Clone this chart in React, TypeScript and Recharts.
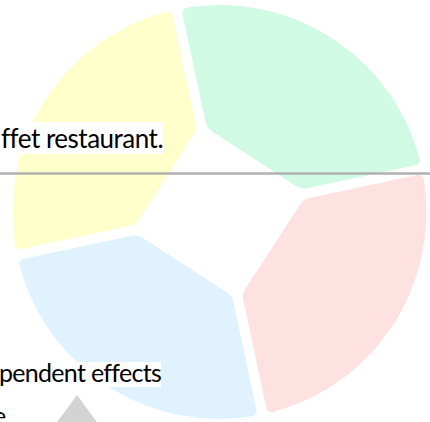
import React from 'react';
import { PieChart, Pie, Cell } from 'recharts';

// four equal quarters, drawn counter-clockwise from the start angle
const categories = ['North', 'West', 'South', 'East'];
const values = [25, 25, 25, 25];
const colors = ['#D1FAE5', '#FFFFCC', '#E0F2FE', '#FEE2E2'];

// annotation fragments that overlap the chart
const notes = ['ffet restaurant.', 'pendent effects', 'e'];

const data = categories.map((name, i) => ({ name, value: values[i] }));

const RAD = Math.PI / 180;
const GAP = 10;
const CORNER = 6;

type Pt = [number, number];

const polar = (cx: number, cy: number, r: number, deg: number): Pt => [
  cx + r * Math.cos(-deg * RAD),
  cy + r * Math.sin(-deg * RAD),
];

const toward = (a: Pt, b: Pt, d: number): Pt => {
  const dx = b[0] - a[0];
  const dy = b[1] - a[1];
  const len = Math.hypot(dx, dy) || 1;
  return [a[0] + (dx / len) * d, a[1] + (dy / len) * d];
};

const fmt = (p: Pt) => `${p[0].toFixed(2)},${p[1].toFixed(2)}`;

// sector with a flat inner edge, a constant-width gap and rounded corners
const PetalSector = (props: any) => {
  const { cx, cy, innerRadius, outerRadius, startAngle, endAngle, fill } = props;
  const sign = endAngle >= startAngle ? 1 : -1;
  const h = GAP / 2;
  const dO = (Math.asin(h / outerRadius) / RAD) * sign;
  const dI = (Math.asin(h / innerRadius) / RAD) * sign;
  const o1 = polar(cx, cy, outerRadius, startAngle + dO);
  const o2 = polar(cx, cy, outerRadius, endAngle - dO);
  const i1 = polar(cx, cy, innerRadius, startAngle + dI);
  const i2 = polar(cx, cy, innerRadius, endAngle - dI);
  const dArc = (CORNER / outerRadius / RAD) * sign;
  const a1 = polar(cx, cy, outerRadius, startAngle + dO + dArc);
  const a2 = polar(cx, cy, outerRadius, endAngle - dO - dArc);
  const large = Math.abs(endAngle - startAngle) > 180 ? 1 : 0;
  const sweep = sign > 0 ? 0 : 1;
  const d = [
    `M${fmt(toward(i1, o1, CORNER))}`,
    `L${fmt(toward(o1, i1, CORNER))}`,
    `Q${fmt(o1)} ${fmt(a1)}`,
    `A${outerRadius},${outerRadius} 0 ${large} ${sweep} ${fmt(a2)}`,
    `Q${fmt(o2)} ${fmt(toward(o2, i2, CORNER))}`,
    `L${fmt(toward(i2, o2, CORNER))}`,
    `Q${fmt(i2)} ${fmt(toward(i2, i1, CORNER))}`,
    `L${fmt(toward(i1, i2, CORNER))}`,
    `Q${fmt(i1)} ${fmt(toward(i1, o1, CORNER))}`,
    'Z',
  ].join(' ');
  return <path d={d} fill={fill} stroke="none" />;
};

const App = () => {
  return (
    <div
      style={{
        position: 'absolute',
        left: 0,
        top: 0,
        width: 430,
        height: 422,
        overflow: 'hidden',
        background: '#fff',
      }}
    >
      <PieChart width={430} height={422} margin={{ top: 0, right: 0, bottom: 0, left: 0 }}>
        <Pie
          data={data}
          dataKey="value"
          nameKey="name"
          cx={219.5}
          cy={212}
          innerRadius={85}
          outerRadius={207}
          startAngle={12}
          endAngle={372}
          paddingAngle={0}
          stroke="none"
          shape={PetalSector}
          activeShape={PetalSector}
          isAnimationActive={false}
        >
          {data.map((d, i) => (
            <Cell key={d.name} fill={colors[i]} />
          ))}
        </Pie>
      </PieChart>

      <svg
        width={430}
        height={422}
        style={{ position: 'absolute', left: 0, top: 0, pointerEvents: 'none' }}
      >
        <line x1={0} x2={430} y1={173.5} y2={173.5} stroke="#B0B0B0" strokeWidth={2.5} />
        <rect x={0} y={122} width={163} height={32} fill="#fff" />
        <text
          x={1}
          y={148}
          fontFamily="Lato"
          fontSize={26}
          fill="#000"
          style={{ letterSpacing: '-0.5px' }}
        >
          {notes[0]}
        </text>
        <rect x={0} y={362} width={161} height={25} fill="#fff" />
        <text
          x={-1}
          y={381.5}
          fontFamily="Lato"
          fontSize={25}
          fill="#000"
          style={{ letterSpacing: '-0.7px' }}
        >
          {notes[1]}
        </text>
        <text x={-7} y={424.5} fontFamily="Lato" fontSize={25} fill="#000">
          {notes[2]}
        </text>
        <polygon points="77,395 44,440 110,440" fill="#D3D3D3" />
      </svg>
    </div>
  );
};

export default App;
